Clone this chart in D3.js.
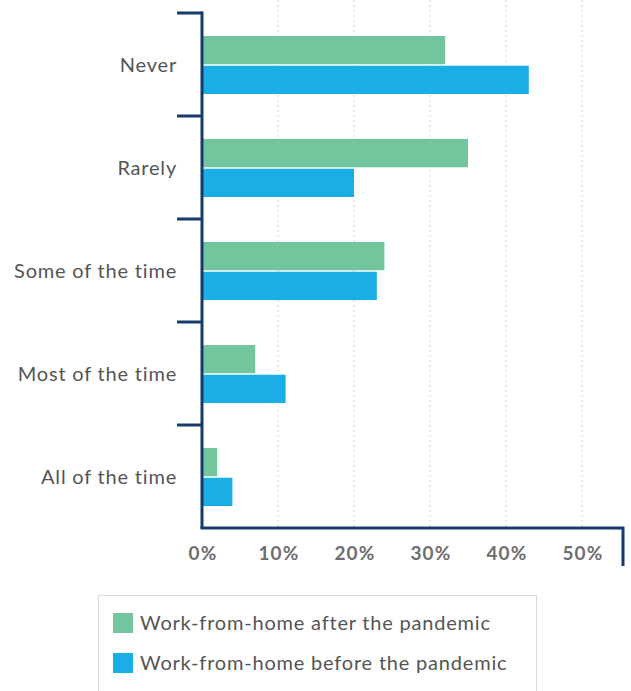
<!DOCTYPE html>
<html>
<head>
<meta charset="utf-8">
<script src="https://cdn.jsdelivr.net/npm/d3@7"></script>
<style>
  html, body { margin: 0; padding: 0; background: #fff; }
  svg { display: block; }
  text { font-family: Lato, "Open Sans", sans-serif; }
</style>
</head>
<body>
<svg id="chart" width="631" height="691"></svg>
<script>
// Frequency of working from home, share of respondents
const categories = ["Never", "Rarely", "Some of the time", "Most of the time", "All of the time"];
const seriesNames = ["Work-from-home after the pandemic", "Work-from-home before the pandemic"];
const afterValues = [0.32, 0.35, 0.24, 0.07, 0.02];
const beforeValues = [0.43, 0.20, 0.23, 0.11, 0.04];
const tickValues = [0, 0.1, 0.2, 0.3, 0.4, 0.5];
const tickLabels = ["0%", "10%", "20%", "30%", "40%", "50%"];
const colors = ["#72c59c", "#19aee6"];

const rows = categories.map((c, i) => ({
  category: c,
  values: [
    { series: seriesNames[0], value: afterValues[i] },
    { series: seriesNames[1], value: beforeValues[i] }
  ]
}));

const svg = d3.select("#chart");
const axisColor = "#173b69";
const textColor = "#555";

const plot = { left: 202, right: 620, top: 13, bottom: 528 };

const x = d3.scaleLinear().domain([0, 0.55]).range([plot.left, plot.right]);
const y0 = d3.scaleBand().domain(categories).range([plot.top, plot.bottom]).padding(0);
const y1 = d3.scaleBand().domain(seriesNames).range([23, 81]).paddingInner(0.05);
const color = d3.scaleOrdinal().domain(seriesNames).range(colors);

// dotted vertical gridlines
svg.append("g")
  .selectAll("line")
  .data(tickValues.slice(1))
  .join("line")
  .attr("x1", d => x(d)).attr("x2", d => x(d))
  .attr("y1", 0).attr("y2", plot.bottom)
  .attr("stroke", "#d4d4d4")
  .attr("stroke-width", 1)
  .attr("stroke-dasharray", "2,3");

// grouped bars
const groups = svg.append("g")
  .selectAll("g")
  .data(rows)
  .join("g")
  .attr("transform", d => `translate(0,${y0(d.category)})`);

groups.selectAll("rect")
  .data(d => d.values)
  .join("rect")
  .attr("x", x(0))
  .attr("y", d => y1(d.series))
  .attr("width", d => x(d.value) - x(0))
  .attr("height", y1.bandwidth())
  .attr("fill", d => color(d.series));

// category axis: vertical spine with separators between groups
const yAxis = svg.append("g");
yAxis.append("line")
  .attr("x1", plot.left).attr("x2", plot.left)
  .attr("y1", plot.top - 1.5).attr("y2", plot.bottom)
  .attr("stroke", axisColor).attr("stroke-width", 3);
yAxis.selectAll("line.sep")
  .data(categories)
  .join("line")
  .attr("class", "sep")
  .attr("x1", plot.left - 25).attr("x2", plot.left)
  .attr("y1", d => y0(d)).attr("y2", d => y0(d))
  .attr("stroke", axisColor).attr("stroke-width", 3);
yAxis.selectAll("text")
  .data(categories)
  .join("text")
  .attr("x", plot.left - 25)
  .attr("y", d => y0(d) + y0.bandwidth() / 2)
  .attr("dy", "0.35em")
  .attr("text-anchor", "end")
  .attr("font-size", 20)
  .attr("letter-spacing", 0.8)
  .attr("fill", textColor)
  .text(d => d);

// value axis: baseline with a downward hook at the right end
const xAxis = svg.append("g");
xAxis.append("path")
  .attr("d", `M${plot.left - 1.5},${plot.bottom} H${plot.right + 3} V${plot.bottom + 38}`)
  .attr("fill", "none")
  .attr("stroke", axisColor)
  .attr("stroke-width", 3);
xAxis.selectAll("text")
  .data(tickValues)
  .join("text")
  .attr("x", d => x(d) + 1)
  .attr("y", plot.bottom + 25)
  .attr("dy", "0.35em")
  .attr("text-anchor", "middle")
  .attr("font-size", 19)
  .attr("font-weight", 700)
  .attr("letter-spacing", 1.2)
  .attr("fill", "#6e6e6e")
  .text((d, i) => tickLabels[i]);

// legend
const legend = svg.append("g");
legend.append("rect")
  .attr("x", 98.5).attr("y", 595.5)
  .attr("width", 438).attr("height", 100)
  .attr("fill", "#fff")
  .attr("stroke", "#d9d9d9");
const items = legend.selectAll("g.item")
  .data(seriesNames)
  .join("g")
  .attr("class", "item")
  .attr("transform", (d, i) => `translate(113,${613 + i * 40})`);
items.append("rect")
  .attr("width", 20).attr("height", 20)
  .attr("fill", d => color(d));
items.append("text")
  .attr("x", 27).attr("y", 10)
  .attr("dy", "0.35em")
  .attr("font-size", 20)
  .attr("letter-spacing", 0.8)
  .attr("fill", textColor)
  .text(d => d);
</script>
</body>
</html>
